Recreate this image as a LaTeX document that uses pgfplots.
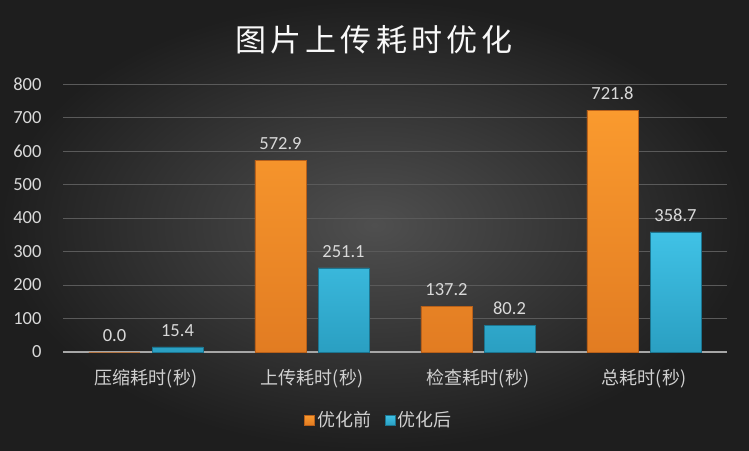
\documentclass[border=0pt]{standalone}
\usepackage{pgfplots}
\pgfplotsset{compat=1.18}
\usepackage{fontspec}
\setmainfont{Carlito}
\newfontfamily\cjk{Noto Sans CJK SC}
\newfontfamily\cjktitle[LetterSpace=13]{Noto Sans CJK SC}
\definecolor{bgin}{HTML}{4F4F4F}
\definecolor{bgout}{HTML}{1E1E1E}
\definecolor{gridc}{HTML}{5A5A5A}
\definecolor{axc}{HTML}{A6A6A6}
\definecolor{labc}{HTML}{D9D9D9}
\definecolor{catc}{HTML}{D0D0D0}
\definecolor{orT}{HTML}{FA9A2E}
\definecolor{orB}{HTML}{E27C22}
\definecolor{orD}{HTML}{B8601A}
\definecolor{cyT}{HTML}{40C2E6}
\definecolor{cyB}{HTML}{2A9FC2}
\definecolor{cyD}{HTML}{1C7590}
\begin{document}
\begin{tikzpicture}
\shade[inner color=bgin, outer color=bgout] (0pt,0pt) rectangle (749pt,450pt);
\node[text=white!95!gray, font=\cjktitle\fontsize{31}{34}\selectfont] at (374pt,410pt) {图片上传耗时优化};
\begin{axis}[
  at={(63pt,98pt)}, anchor=south west,
  scale only axis, width=664pt, height=268pt,
  xmin=-0.5, xmax=3.5, ymin=0, ymax=800,
  axis x line*=bottom, axis y line*=left,
  y axis line style={draw=none},
  x axis line style={draw=axc, line width=2pt},
  major tick length=0pt,
  ytick={0,100,...,800},
  ymajorgrids, grid style={color=gridc, line width=0.8pt},
  xtick={0,1,2,3},
  xticklabels={压缩耗时(秒),上传耗时(秒),检查耗时(秒),总耗时(秒)},
  xticklabel style={font=\cjk\fontsize{18}{20}\selectfont, text=catc, yshift=-14pt},
  yticklabel style={font=\fontsize{18.5}{20}\selectfont, text=labc, xshift=-18pt},
  /pgf/number format/assume math mode=true,
  nodes near coords,
  every node near coord/.append style={font=\fontsize{18.5}{20}\selectfont, text=labc, yshift=7pt,
     /pgf/number format/fixed, /pgf/number format/fixed zerofill, /pgf/number format/precision=1},
  legend style={at={(0.476,-0.254)}, anchor=center, draw=none, fill=none,
     legend columns=2, font=\cjk\fontsize{18}{20}\selectfont, text=catc,
     /tikz/every even column/.append style={column sep=12pt}},
  legend image code/.code={\path[#1] (0pt,-5pt) rectangle (10pt,5pt);},
  clip=false,
]
\addplot[ybar, bar width=0.307, bar shift=-0.19, top color=orT, bottom color=orB, draw=orD, line width=0.6pt,
  every node near coord/.append style={xshift=-31.5pt}]
  coordinates {(0,0.0) (1,572.9) (2,137.2) (3,721.8)};
\addlegendentry{优化前}
\addplot[ybar, bar width=0.307, bar shift=0.19, top color=cyT, bottom color=cyB, draw=cyD, line width=0.6pt,
  every node near coord/.append style={xshift=31.5pt}]
  coordinates {(0,15.4) (1,251.1) (2,80.2) (3,358.7)};
\addlegendentry{优化后}
\end{axis}
\end{tikzpicture}
\end{document}
